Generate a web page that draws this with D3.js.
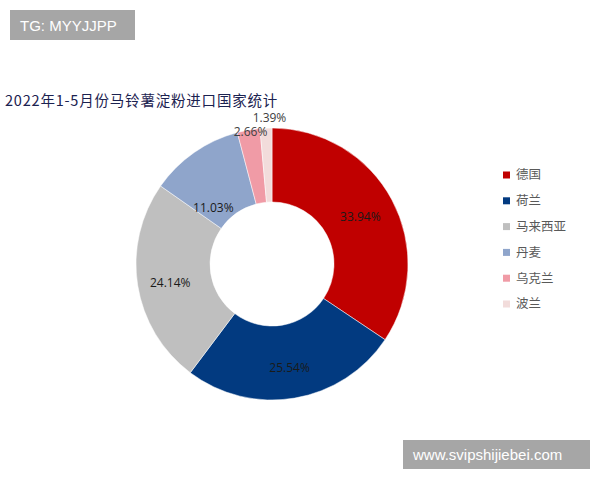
<!DOCTYPE html>
<html><head><meta charset="utf-8">
<script src="https://cdn.jsdelivr.net/npm/d3@7"></script>
<style>body{margin:0;background:#fff}svg{display:block}</style>
</head><body>
<svg id="c" width="600" height="480"></svg>
<script>
const categories = ["德国","荷兰","马来西亚","丹麦","乌克兰","波兰"];
const values = [33.94, 25.54, 24.14, 11.03, 2.66, 1.39];
const labels = ["33.94%","25.54%","24.14%","11.03%","2.66%","1.39%"];
const colors = ["#C00000","#023A80","#BFBFBF","#8FA5CB","#F09BA6","#F2DCDB"];

const svg = d3.select("#c");
svg.append("rect").attr("width",600).attr("height",480).attr("fill","#fff");

// watermarks
svg.append("rect").attr("x",10).attr("y",10).attr("width",125).attr("height",30).attr("fill","#A6A6A6");
svg.append("text").attr("x",20).attr("y",31).attr("fill","#fff").attr("font-family","Liberation Sans, Arial").attr("font-size",15).text("TG: MYYJJPP");
svg.append("rect").attr("x",403).attr("y",440).attr("width",187).attr("height",29).attr("fill","#A6A6A6");
svg.append("text").attr("x",413).attr("y",460).attr("fill","#fff").attr("font-family","Liberation Sans, Arial").attr("font-size",15).text("www.svipshijiebei.com");

// title
svg.append("text").attr("x",5).attr("y",106).attr("fill","#1B2250")
  .attr("font-family","Noto Sans CJK SC").attr("font-size",14.5).attr("letter-spacing",0.8)
  .text("2022年1-5月份马铃薯淀粉进口国家统计");

const cx = 272, cy = 264, R = 136, r = 62;
const pie = d3.pie().sort(null).value(d=>d)(values);
const arc = d3.arc().innerRadius(r).outerRadius(R);
const g = svg.append("g").attr("transform",`translate(${cx},${cy})`);
g.selectAll("path").data(pie).join("path").attr("d",arc)
  .attr("fill",(d,i)=>colors[i]).attr("stroke","#fff").attr("stroke-width",0.5);

// label placement: centroid on a ring, plus small nudges like the original
const labArc = d3.arc().innerRadius((r+R)/2).outerRadius((r+R)/2);
const outArc = d3.arc().innerRadius(R+12).outerRadius(R+12);
const nudge = [[1,-1],[1,6],[-4,3],[-2,25],[4,14],[4,2]];
g.selectAll("text.lab").data(pie).join("text").attr("class","lab")
  .attr("transform",(d,i)=>{
    const c = (i<4?labArc:outArc).centroid(d);
    return `translate(${c[0]+nudge[i][0]},${c[1]+nudge[i][1]})`;
  })
  .attr("text-anchor","middle").attr("dy","0.35em")
  .attr("font-family","Open Sans, Noto Sans").attr("font-size",12)
  .attr("fill",(d,i)=>i<4?"#1a1a1a":"#404040")
  .text((d,i)=>labels[i]);

// legend
const lg = svg.append("g");
const ly = d3.scalePoint().domain(categories).range([175,304]);
categories.forEach((c,i)=>{
  lg.append("rect").attr("x",503).attr("y",ly(c)-3.5).attr("width",7).attr("height",7).attr("fill",colors[i]);
  lg.append("text").attr("x",516).attr("y",ly(c)).attr("dy","0.35em")
    .attr("font-family","Noto Sans CJK SC").attr("font-size",12.5).attr("fill","#595959").text(c);
});
</script>
</body></html>
